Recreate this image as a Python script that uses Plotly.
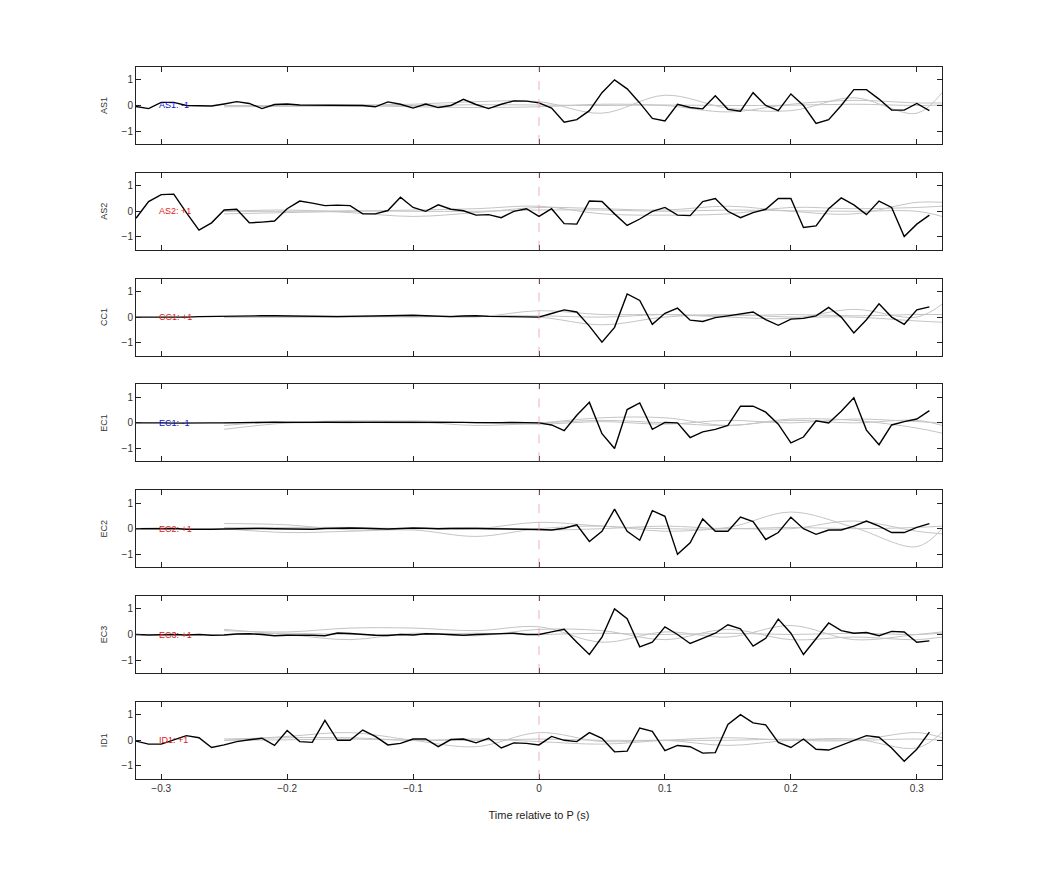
import plotly.graph_objects as go

# station names, polarity labels and label colours
stations = ["AS1", "AS2", "CC1", "EC1", "EC2", "EC3", "ID1"]
polarity = ["-1", "+1", "+1", "-1", "+1", "+1", "+1"]
label_colors = ["#1010d0", "#e02020", "#e02020", "#1010d0", "#e02020", "#e02020", "#e02020"]

# black traces: 64 samples, -0.32 .. 0.31 step 0.01
t_black = [round(-0.32 + 0.01 * k, 2) for k in range(64)]

as1 = [-0.04, -0.12, 0.12, 0.12, 0.0, 0.0, -0.02, 0.06, 0.15, 0.08, -0.12, 0.04, 0.06, 0.02, 0.02, 0.01,
       0.0, 0.02, 0.0, -0.05, 0.14, 0.05, -0.1, 0.06, -0.08, 0.0, 0.24, 0.04, -0.12, 0.05, 0.18, 0.17,
       0.1, -0.1, -0.65, -0.55, -0.2, 0.5, 1.0, 0.65, 0.1, -0.5, -0.6, 0.05, -0.08, -0.13, 0.38, -0.15,
       -0.22, 0.5, 0.0, -0.2, 0.45, 0.0, -0.7, -0.55, 0.0, 0.62, 0.62, 0.25, -0.18, -0.18, 0.08, -0.2]
as2 = [-0.27, 0.38, 0.65, 0.67, -0.05, -0.73, -0.45, 0.05, 0.08, -0.45, -0.42, -0.38, 0.1, 0.4, 0.32, 0.22,
       0.24, 0.22, -0.1, -0.1, 0.03, 0.55, 0.15, 0.0, 0.25, 0.08, 0.02, -0.15, -0.13, -0.25, 0.0, 0.1,
       -0.2, 0.1, -0.48, -0.5, 0.4, 0.38, -0.1, -0.55, -0.3, 0.0, 0.15, -0.15, -0.17, 0.38, 0.5, 0.0,
       -0.25, -0.05, 0.08, 0.5, 0.5, -0.63, -0.57, 0.1, 0.52, 0.25, -0.13, 0.4, 0.15, -0.98, -0.5, -0.15]
cc1 = [0.0, 0.0, 0.0, -0.01, 0.0, 0.02, 0.03, 0.03, 0.04, 0.04, 0.05, 0.05, 0.04, 0.03, 0.02, 0.02,
       0.02, 0.03, 0.03, 0.04, 0.05, 0.06, 0.07, 0.05, 0.03, 0.02, 0.04, 0.05, 0.03, 0.02, 0.02, 0.02,
       0.0, 0.14, 0.28, 0.2, -0.35, -0.98, -0.4, 0.9, 0.65, -0.28, 0.15, 0.35, -0.12, -0.17, -0.02, 0.05,
       0.12, 0.2, -0.1, -0.32, -0.08, -0.05, 0.05, 0.38, 0.0, -0.62, -0.1, 0.52, 0.0, -0.28, 0.28, 0.4]
ec1 = [0.0, 0.01, 0.0, -0.01, 0.0, 0.01, 0.0, 0.0, 0.01, 0.02, 0.03, 0.03, 0.02, 0.01, 0.02, 0.03,
       0.03, 0.02, 0.03, 0.04, 0.03, 0.02, 0.03, 0.04, 0.03, 0.02, 0.02, 0.01, 0.0, 0.01, 0.02, 0.01,
       0.0, -0.08, -0.3, 0.3, 0.8, -0.42, -1.0, 0.52, 0.78, -0.25, 0.02, 0.0, -0.57, -0.35, -0.25, -0.1,
       0.65, 0.65, 0.42, -0.05, -0.78, -0.55, 0.08, 0.0, 0.45, 0.98, -0.28, -0.85, -0.08, 0.05, 0.15, 0.48]
ec2 = [0.0, 0.0, 0.0, 0.01, -0.02, -0.03, -0.02, -0.01, 0.0, 0.0, 0.01, 0.0, -0.01, -0.03, -0.02, 0.01,
       0.03, 0.03, 0.02, 0.0, -0.01, 0.01, 0.03, 0.02, 0.0, 0.01, 0.02, 0.01, 0.0, 0.0, -0.01, -0.02,
       -0.03, -0.05, 0.02, 0.15, -0.5, -0.1, 0.76, -0.1, -0.45, 0.7, 0.48, -1.0, -0.55, 0.38, -0.1, -0.1,
       0.45, 0.28, -0.42, -0.15, 0.45, 0.0, -0.22, -0.05, -0.05, 0.1, 0.3, 0.1, -0.15, -0.15, 0.05, 0.2]
ec3 = [0.0, -0.02, -0.01, 0.0, -0.02, 0.0, -0.03, -0.02, 0.02, 0.03, 0.0, -0.05, -0.03, -0.02, -0.03, -0.05,
       0.06, 0.04, 0.0, -0.03, -0.04, 0.0, -0.02, 0.03, 0.02, 0.0, -0.03, 0.0, 0.02, 0.04, 0.05, 0.0,
       0.0, 0.1, 0.2, -0.3, -0.78, -0.1, 1.0, 0.62, -0.48, -0.3, 0.3, 0.0, -0.35, -0.15, 0.05, 0.38,
       0.22, -0.45, -0.15, 0.6, 0.05, -0.78, -0.15, 0.45, 0.15, 0.05, 0.08, -0.05, 0.12, 0.1, -0.3, -0.25]
id1 = [-0.03, -0.15, -0.15, 0.0, 0.18, 0.1, -0.28, -0.18, -0.05, 0.02, 0.08, -0.2, 0.38, -0.05, -0.08, 0.78,
       0.0, 0.0, 0.4, 0.15, -0.18, -0.12, 0.05, 0.05, -0.25, 0.03, 0.05, -0.1, 0.08, -0.3, -0.1, -0.12,
       -0.18, 0.15, 0.0, -0.05, 0.3, 0.08, -0.45, -0.42, 0.48, 0.35, -0.4, -0.2, -0.25, -0.5, -0.48, 0.62,
       1.0, 0.68, 0.6, -0.08, -0.28, 0.05, -0.35, -0.38, -0.2, 0.0, 0.18, 0.12, -0.3, -0.82, -0.35, 0.32]
black_series = [as1, as2, cc1, ec1, ec2, ec3, id1]

# grey (smooth) traces sampled every 0.05 s
t_grey = [-0.25, -0.2, -0.15, -0.1, -0.05, 0.0, 0.05, 0.1, 0.15, 0.2, 0.25, 0.3, 0.32]
grey_series = [
    [[0.0, 0.0, 0.02, 0.05, 0.15, 0.15, -0.3, 0.4, -0.1, -0.2, 0.3, -0.3, 0.5],
     [0.0, -0.02, -0.03, 0.0, 0.03, 0.02, 0.0, 0.02, 0.0, 0.01, 0.05, 0.0, 0.02],
     [-0.05, -0.03, 0.0, -0.05, -0.08, -0.05, 0.05, 0.0, -0.25, 0.05, 0.2, 0.1, 0.1]],
    [[0.0, 0.05, -0.05, -0.2, -0.05, 0.15, 0.1, 0.05, 0.2, 0.0, -0.1, 0.35, 0.35],
     [-0.1, -0.05, 0.0, 0.05, 0.1, 0.2, -0.1, -0.15, -0.1, 0.15, 0.1, 0.15, 0.2],
     [0.0, 0.0, 0.02, 0.0, 0.0, 0.05, 0.05, 0.0, 0.05, 0.02, 0.0, 0.0, -0.2]],
    [[0.0, 0.0, 0.02, 0.05, 0.0, 0.25, 0.1, 0.1, 0.0, -0.05, 0.3, 0.0, 0.5],
     [0.0, 0.03, 0.05, 0.0, 0.05, 0.0, -0.3, 0.0, 0.1, 0.0, 0.0, -0.15, -0.2],
     [0.0, 0.0, 0.0, 0.02, 0.05, 0.05, 0.0, 0.1, 0.05, 0.1, 0.05, 0.1, 0.1]],
    [[-0.25, 0.0, 0.08, 0.05, -0.1, 0.0, 0.2, 0.2, -0.1, 0.15, 0.1, -0.2, -0.4],
     [-0.1, 0.05, 0.0, 0.08, 0.0, -0.05, 0.05, -0.05, 0.1, 0.0, 0.15, 0.05, 0.0],
     [0.0, 0.0, 0.02, 0.0, 0.02, 0.0, 0.1, 0.0, -0.1, 0.1, 0.0, 0.1, -0.1]],
    [[0.2, 0.15, -0.05, 0.0, 0.0, 0.25, 0.1, 0.0, 0.05, 0.65, 0.05, -0.7, 0.0],
     [0.0, -0.15, -0.1, -0.05, -0.3, 0.0, 0.1, -0.1, 0.0, 0.0, 0.3, -0.1, -0.2],
     [0.05, 0.05, 0.05, 0.0, 0.05, -0.05, 0.0, 0.1, 0.0, 0.05, 0.0, 0.05, 0.1]],
    [[0.15, 0.1, 0.25, 0.25, 0.15, 0.3, -0.3, 0.1, -0.1, 0.35, -0.2, 0.0, 0.1],
     [0.2, 0.0, -0.2, 0.05, -0.05, 0.2, 0.15, -0.2, 0.2, -0.2, -0.1, -0.2, -0.1],
     [0.0, 0.05, 0.0, 0.0, 0.05, 0.0, 0.05, 0.0, 0.05, 0.0, 0.05, 0.0, 0.05]],
    [[0.0, 0.15, 0.3, 0.0, -0.25, 0.3, -0.05, 0.0, -0.2, 0.0, 0.05, -0.3, 0.3],
     [0.05, 0.1, 0.1, 0.0, 0.05, -0.05, -0.15, 0.0, 0.1, 0.0, 0.0, 0.3, 0.1],
     [0.0, 0.02, 0.05, 0.0, 0.0, 0.05, 0.0, 0.0, 0.0, 0.05, 0.0, 0.05, 0.0]],
]

x_ticks = [-0.3, -0.2, -0.1, 0, 0.1, 0.2, 0.3]
y_ticks = [-1, 0, 1]

W, H = 1042, 875
fig = go.Figure()
n = len(stations)
font = "Liberation Sans, Arial, sans-serif"

for i in range(n):
    xa = "x" if i == 0 else f"x{i + 1}"
    ya = "y" if i == 0 else f"y{i + 1}"
    for g in grey_series[i]:
        fig.add_trace(go.Scatter(x=t_grey, y=g, xaxis=xa, yaxis=ya, mode="lines",
                                 line=dict(color="#c4c4c4", width=1, shape="spline"),
                                 showlegend=False, hoverinfo="skip"))
    fig.add_trace(go.Scatter(x=t_black, y=black_series[i], xaxis=xa, yaxis=ya, mode="lines",
                             line=dict(color="black", width=1.4), showlegend=False))
    fig.add_shape(type="line", x0=0, x1=0, y0=-1.5, y1=1.5, xref=xa, yref=ya,
                  line=dict(color="#eaa0a0", width=0.8, dash="dash"))
    fig.add_annotation(x=-0.303, y=0, xref=xa, yref=ya, text=f"{stations[i]}: {polarity[i]}",
                       showarrow=False, xanchor="left", font=dict(size=9, color=label_colors[i]))

    # the page is shifted by the body margin, so domains are offset by ~8px
    top = 59 + 105.8 * i
    dom = [1 - (top + 77) / H, 1 - top / H]
    axis_style = dict(showline=True, linecolor="#222", linewidth=1, mirror="ticks",
                      ticks="inside", ticklen=5, tickcolor="#222", showgrid=False, zeroline=False,
                      tickfont=dict(family=font, size=10, color="#333"))
    key = "" if i == 0 else str(i + 1)
    fig.update_layout({
        f"xaxis{key}": dict(axis_style, domain=[128 / W, 934 / W], range=[-0.32, 0.32],
                            tickvals=x_ticks, showticklabels=(i == n - 1), anchor=ya,
                            title=dict(text="Time relative to P (s)" if i == n - 1 else "",
                                       font=dict(family=font, size=11, color="#222"), standoff=18)),
        f"yaxis{key}": dict(axis_style, domain=dom, range=[-1.5, 1.5], tickvals=y_ticks,
                            anchor=xa,
                            title=dict(text=stations[i], font=dict(family=font, size=9, color="#333"),
                                       standoff=12)),
    })

fig.update_layout(width=W, height=H, margin=dict(l=0, r=0, t=0, b=0),
                  paper_bgcolor="white", plot_bgcolor="white",
                  font=dict(family=font))
fig.write_html("out.html")
